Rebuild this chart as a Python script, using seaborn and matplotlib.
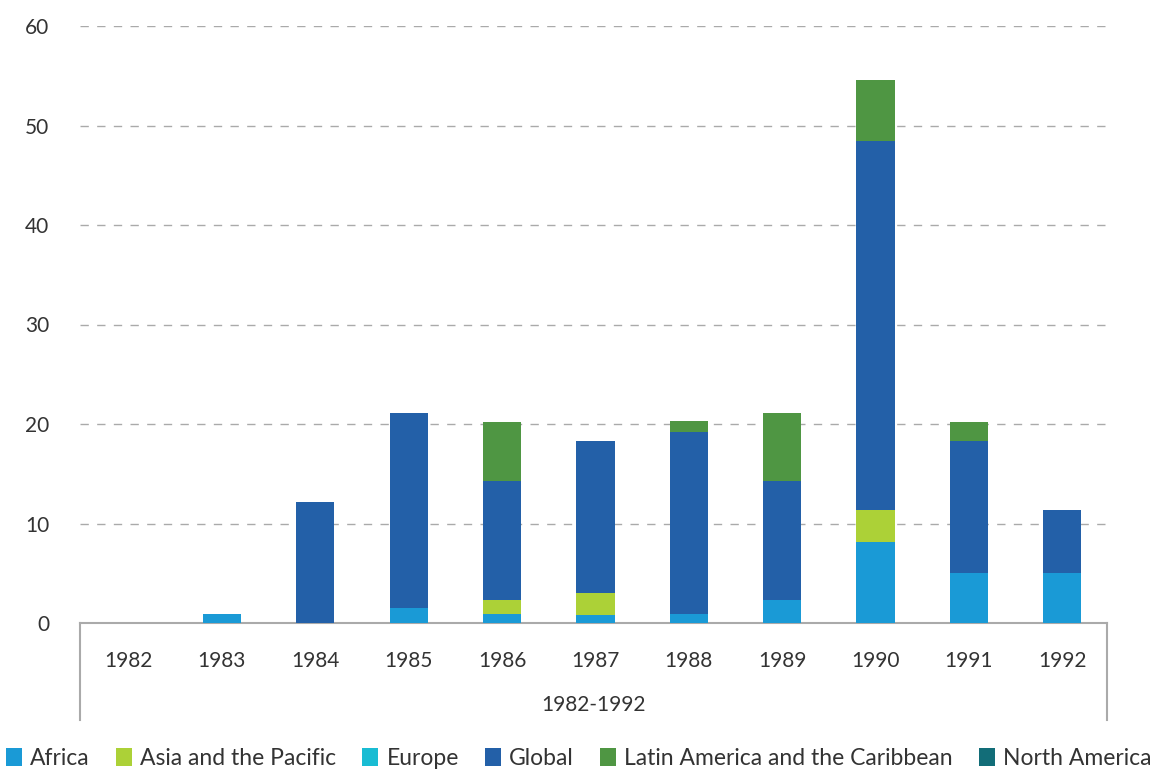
import seaborn as sns
import pandas as pd
import numpy as np
import matplotlib.pyplot as plt
from matplotlib.patches import Patch

# Values (stacked by region)
years = ['1982', '1983', '1984', '1985', '1986', '1987', '1988', '1989', '1990', '1991', '1992']
regions = ['Africa', 'Asia and the Pacific', 'Europe', 'Global', 'Latin America and the Caribbean', 'North America']
africa = [0, 0.9, 0, 1.5, 0.9, 0.8, 0.9, 2.3, 8.1, 5.0, 5.0]
asia = [0, 0, 0, 0, 1.4, 2.2, 0, 0, 3.3, 0, 0]
europe = [0, 0, 0, 0, 0, 0, 0, 0, 0, 0, 0]
global_ = [0, 0, 12.2, 19.6, 12.0, 15.3, 18.3, 12.0, 37.0, 13.3, 6.4]
latam = [0, 0, 0, 0, 5.9, 0, 1.1, 6.8, 6.2, 1.9, 0]
north_america = [0, 0, 0, 0, 0, 0, 0, 0, 0, 0, 0]
colors = ['#1a9ad6', '#acd137', '#19bcd3', '#2360a8', '#4f9643', '#126d78']

plt.rcParams['font.family'] = ['Lato', 'DejaVu Sans']
plt.rcParams['text.color'] = '#333333'

df = pd.DataFrame({'year': years, 'Africa': africa, 'Asia and the Pacific': asia,
                   'Europe': europe, 'Global': global_,
                   'Latin America and the Caribbean': latam, 'North America': north_america})
cum = df[regions].cumsum(axis=1)
cum['year'] = df['year']

fig = plt.figure(figsize=(11.54, 7.7), dpi=100)
ax = fig.add_axes([80 / 1154, (770 - 623) / 770, (1107 - 80) / 1154, (623 - 26) / 770])

# draw tallest cumulative first so lower layers overwrite
for reg, col in list(zip(regions, colors))[::-1]:
    sns.barplot(data=cum, x='year', y=reg, color=col, width=0.41, ax=ax,
                saturation=1, linewidth=0, zorder=3)

ax.set_ylim(0, 60)
ax.set_xlim(-0.52, 10.48)
ax.set_yticks(range(0, 61, 10))
ax.set_xlabel('')
ax.set_ylabel('')
ax.yaxis.grid(True, linestyle=(0, (6, 6)), color='#aaaaaa', linewidth=1, zorder=0)
ax.set_axisbelow(True)
for s in ['left', 'right', 'top']:
    ax.spines[s].set_visible(False)
ax.spines['bottom'].set_color('#aaaaaa')
ax.spines['bottom'].set_linewidth(1.5)
ax.tick_params(axis='both', length=0, labelsize=15, labelcolor='#333333')
ax.tick_params(axis='y', pad=22)
ax.tick_params(axis='x', pad=20)

# group frame below the axis
for xx in [0, 1]:
    ax.plot([xx, xx], [0, -97 / 597], transform=ax.transAxes, color='#aaaaaa',
            linewidth=1.5, clip_on=False)
ax.text(0.5, -82 / 597, '1982-1992', transform=ax.transAxes, ha='center', va='center',
        fontsize=15)

handles = [Patch(facecolor=c, edgecolor='none') for c in colors]
fig.legend(handles, regions, loc='lower left', bbox_to_anchor=(0.004, 0.0), ncol=6,
           frameon=False, fontsize=16.5, handlelength=0.7, handleheight=0.85,
           handletextpad=0.35, columnspacing=1.15, borderaxespad=0, borderpad=0.05)

fig.savefig('out.png', dpi=100)
